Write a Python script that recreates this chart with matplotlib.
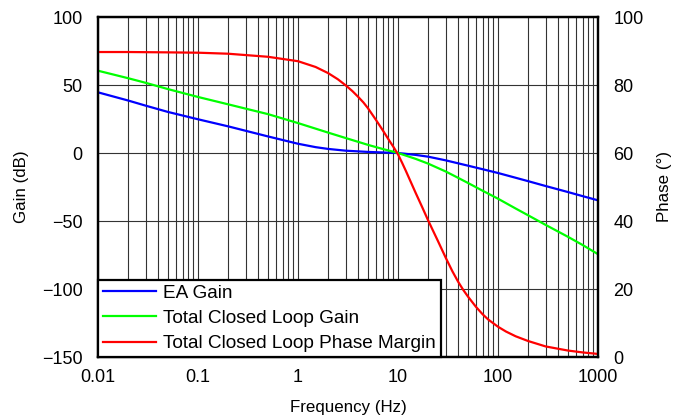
import numpy as np
import matplotlib
matplotlib.use("Agg")
import matplotlib.pyplot as plt
from matplotlib.ticker import FixedLocator, NullFormatter

plt.rcParams['font.family'] = ['Liberation Sans', 'DejaVu Sans']

ea_freq = [0.01, 0.02, 0.03, 0.05, 0.1, 0.2, 0.5, 1, 1.5, 2, 3, 5, 7, 10,
           15, 20, 30, 40, 50, 70, 100, 150, 200, 300, 500, 700, 1000]
ea_gain = [44.6, 38.6, 34.8, 30.2, 24.8, 19.6, 12.2, 6.8, 4.3, 3.0, 1.7, 0.8, 0.4, 0.0,
           -1.4, -2.7, -5.4, -7.6, -9.3, -11.9, -14.7, -18.2, -20.7, -24.3, -28.7, -31.7, -34.8]

cl_freq = [0.01, 0.02, 0.03, 0.05, 0.1, 0.2, 0.5, 1, 2, 3, 5, 7, 10,
           15, 20, 30, 40, 50, 70, 100, 150, 200, 300, 500, 700, 1000]
cl_gain = [60.5, 55.0, 51.6, 47.0, 41.2, 35.8, 28.6, 22.0, 15.0, 11.0, 6.0, 3.0, 0.0,
           -4.3, -7.8, -13.6, -18.3, -22.0, -27.7, -33.6, -40.8, -45.8, -52.9, -61.6, -67.6, -74.4]

pm_freq = [0.01, 0.02, 0.05, 0.1, 0.2, 0.5, 1, 1.5, 2, 2.5, 3, 3.5, 4, 4.5, 5, 6, 7, 8, 9, 10,
           11, 12, 13, 15, 17.5, 20, 25, 30, 35, 40, 45, 50, 60, 70, 80, 100, 120, 150,
           200, 300, 500, 700, 1000]
pm_phase = [89.7, 89.7, 89.6, 89.5, 89.2, 88.3, 87.0, 85.3, 83.5, 81.7, 79.9, 78.2, 76.5, 74.9, 73.2,
            69.8, 66.8, 64.1, 61.8, 59.6, 57.1, 54.7, 52.4, 48.3, 44.0, 40.2, 34.2, 29.2, 25.2,
            22.1, 19.7, 17.8, 14.8, 12.6, 11.0, 8.9, 7.5, 6.1, 4.7, 3.1, 1.9, 1.35, 0.9]

xticks = [0.01, 0.1, 1, 10, 100, 1000]
xticklabels = ["0.01", "0.1", "1", "10", "100", "1000"]
gain_ticks = [-150, -100, -50, 0, 50, 100]
phase_ticks = [0, 20, 40, 60, 80, 100]

fig = plt.figure(figsize=(6.74, 4.18), dpi=100)
ax = fig.add_axes([98/674, 1-357/418, 500/674, 340/418])
ax2 = ax.twinx()

l1, = ax.plot(ea_freq, ea_gain, color='#0000ff', lw=1.6, label='EA Gain')
l2, = ax.plot(cl_freq, cl_gain, color='#00ff00', lw=1.6, label='Total Closed Loop Gain')
l3, = ax2.plot(pm_freq, pm_phase, color='#ff0000', lw=1.6, label='Total Closed Loop Phase Margin')

ax.set_xscale('log')
ax.set_xlim(0.01, 1000)
ax.set_ylim(-150, 100)
ax2.set_ylim(0, 100)

ax.set_xticks(xticks)
ax.set_xticklabels(xticklabels)
ax.xaxis.set_minor_locator(FixedLocator(
    [m * 10.0**e for e in range(-2, 3) for m in range(2, 10)]))
ax.xaxis.set_minor_formatter(NullFormatter())
ax.set_yticks(gain_ticks)
ax2.set_yticks(phase_ticks)

ax.grid(True, which='major', color='#333333', lw=0.8)
ax.grid(True, which='minor', axis='x', color='#333333', lw=0.8)
ax.set_axisbelow(True)

ax.tick_params(which='both', length=0, labelsize=13)
ax.tick_params(axis='x', pad=9)
ax.tick_params(axis='y', pad=11)
ax2.tick_params(length=0, labelsize=13, pad=11)

for a in (ax, ax2):
    for s in a.spines.values():
        s.set_linewidth(1.6)
        s.set_color('black')

ax.set_xlabel('Frequency (Hz)', fontsize=12.2, labelpad=9.5)
ax.set_ylabel('Gain (dB)', fontsize=12.2, labelpad=9)
ax2.set_ylabel('Phase (°)', fontsize=12.2, labelpad=9.5)

leg = ax2.legend(handles=[l1, l2, l3], loc='lower left', borderaxespad=0,
                 fancybox=False, framealpha=1, edgecolor='black', fontsize=13.7,
                 handlelength=2.8, handletextpad=0.37, labelspacing=0.42,
                 borderpad=0.25)
leg.get_frame().set_linewidth(1.6)

fig.savefig('out.png', dpi=100)
